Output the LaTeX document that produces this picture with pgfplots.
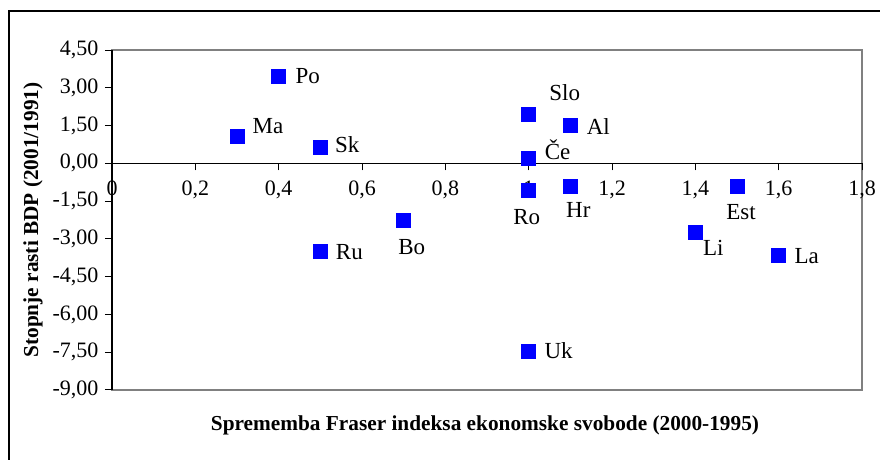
\documentclass[border=0pt]{standalone}
\usepackage{pgfplots}
\pgfplotsset{compat=1.18}
\usepackage{pgfplotstable}
\usepackage{fontspec}
\setmainfont{Liberation Serif}
\pgfplotstableread{
x y label dx dy
0.4 3.45 Po 29 0
0.3 1.08 Ma 31 10
0.5 0.65 Sk 27 2
0.5 -3.47 Ru 29 -1
0.7 -2.27 Bo 8 -27
1.0 1.96 Slo 36 21
1.1 1.52 Al 28 -1
1.0 0.20 Če 29 9
1.0 -1.08 Ro -2 -27
1.1 -0.92 Hr 8 -23
1.4 -2.74 Li 18 -16
1.5 -0.90 Est 4 -26
1.6 -3.64 La 28 -1
1.0 -7.45 Uk 30 0
}\datatable
\begin{document}
\begin{tikzpicture}[x=1pt,y=1pt]
\useasboundingbox (0,0) rectangle (880,460);
\draw[line width=1.5pt] (9,-20) |- (900,449);
\draw[color=gray, line width=2.2pt] (112,70) rectangle (862,410);
\begin{axis}[
  at={(112pt,70pt)}, anchor=south west,
  scale only axis, width=750pt, height=340pt,
  xmin=0, xmax=1.8, ymin=-9, ymax=4.5,
  axis x line*=middle, axis y line*=left,
  axis line style={line width=1.2pt, -},
  hide obscured x ticks=false,
  xtick={0,0.2,0.4,0.6,0.8,1,1.2,1.4,1.6,1.8},
  xticklabels={0,{0,2},{0,4},{0,6},{0,8},1,{1,2},{1,4},{1,6},{1,8}},
  ytick={-9,-7.5,-6,-4.5,-3,-1.5,0,1.5,3,4.5},
  yticklabels={{-9,00},{-7,50},{-6,00},{-4,50},{-3,00},{-1,50},{0,00},{1,50},{3,00},{4,50}},
  tick align=outside,
  major tick length=7pt,
  tick style={line width=1pt, black},
  x tick label style={yshift=-7pt},
  y tick label style={xshift=-3pt},
  ticklabel style={font=\fontsize{22}{24}\selectfont},
  clip=false,
  point meta=explicit symbolic,
  visualization depends on={\thisrow{dx} \as \dx},
  visualization depends on={\thisrow{dy} \as \dy},
  nodes near coords={\pgfplotspointmeta},
  nodes near coords style={anchor=center, xshift=\dx pt, yshift=\dy pt, font=\fontsize{23}{25}\selectfont, text=black},
]
\addplot[only marks, mark=square*, mark size=7pt, color=blue, mark options={draw=blue, fill=blue}] table[x=x, y=y, meta=label] {\datatable};
\end{axis}
\node[rotate=90, font=\bfseries\fontsize{21.3}{23}\selectfont] at (33,240) {Stopnje rasti BDP (2001/1991)};
\node[font=\bfseries\fontsize{21.3}{23}\selectfont] at (485,35) {Sprememba Fraser indeksa ekonomske svobode (2000-1995)};
\end{tikzpicture}
\end{document}
